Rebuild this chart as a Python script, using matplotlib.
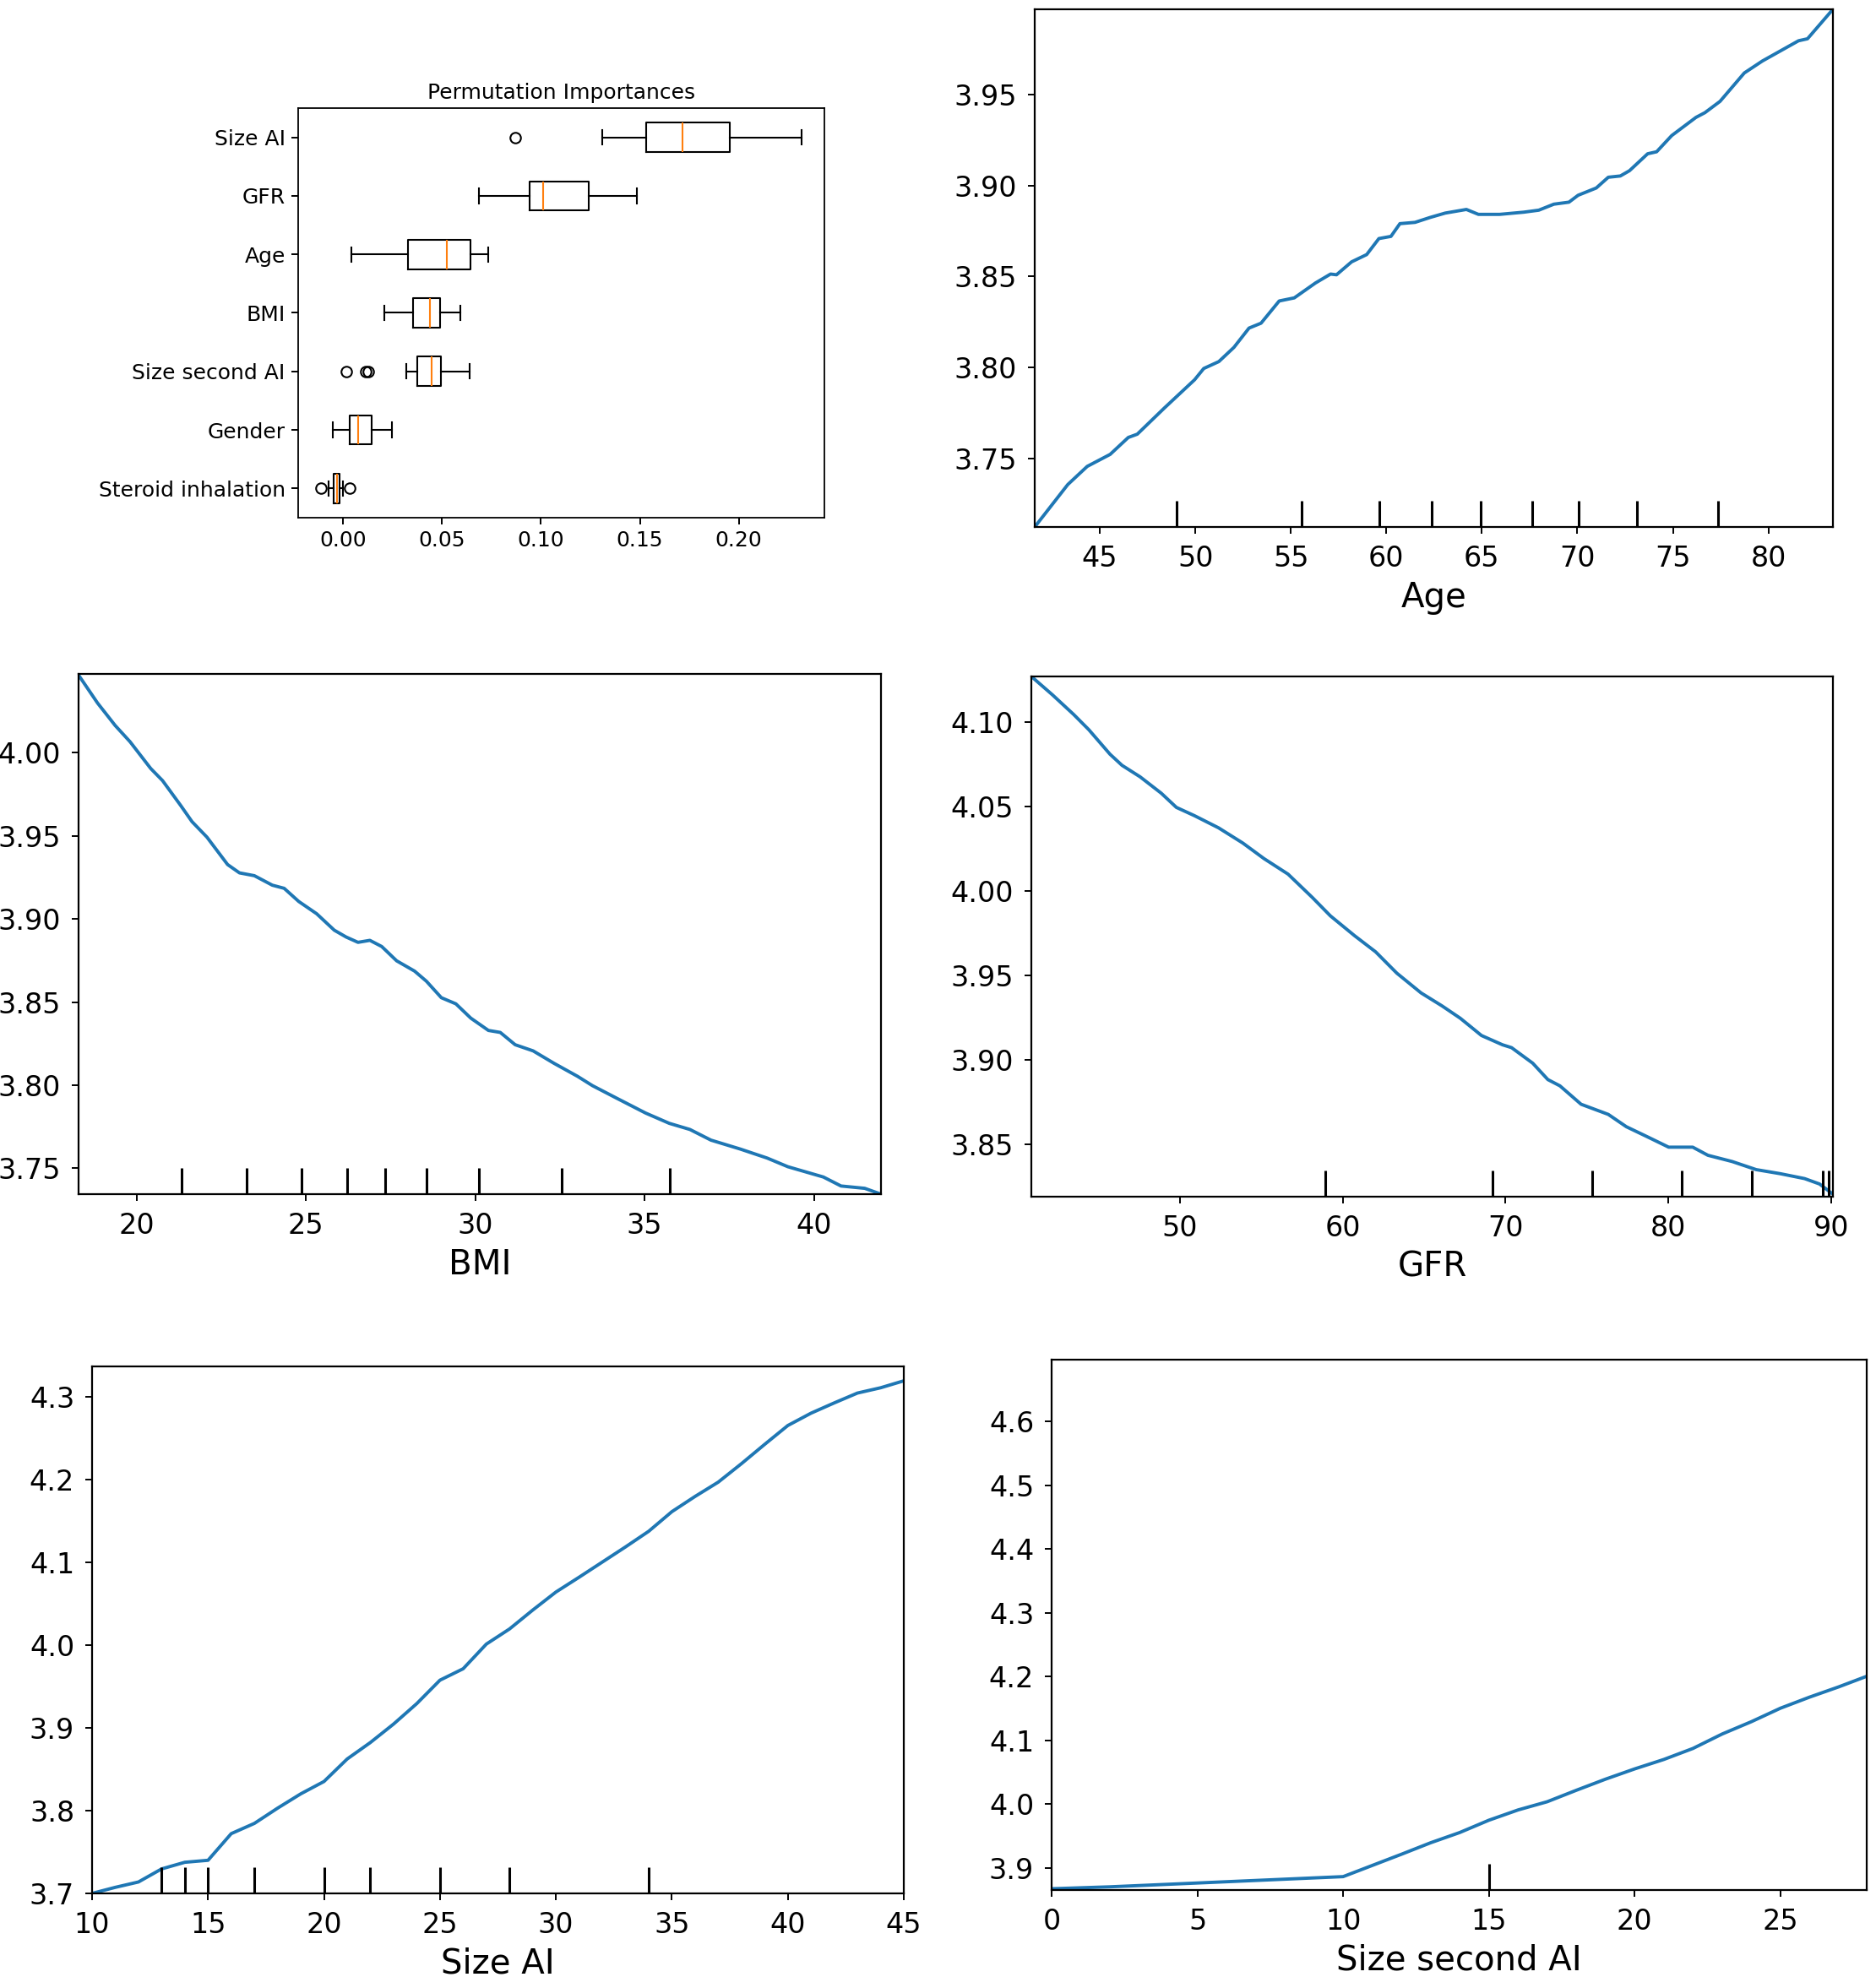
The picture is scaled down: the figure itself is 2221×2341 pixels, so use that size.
import matplotlib
matplotlib.use("Agg")
import matplotlib.pyplot as plt
import numpy as np

W, H = 2221, 2341
BLUE = "#1f77b4"

# ---- permutation importances (box stats) ----
features = ["Steroid inhalation", "Gender", "Size second AI", "BMI", "Age", "GFR", "Size AI"]
whislo = [-0.0074, -0.0052, 0.0320, 0.0209, 0.0043, 0.0688, 0.1310]
q1 = [-0.0045, 0.0036, 0.0377, 0.0353, 0.0329, 0.0943, 0.1530]
med = [-0.0031, 0.0078, 0.0448, 0.0440, 0.0527, 0.1011, 0.1717]
q3 = [-0.0017, 0.0145, 0.0495, 0.0489, 0.0644, 0.1242, 0.1954]
whishi = [0.0002, 0.0248, 0.0641, 0.0595, 0.0736, 0.1486, 0.2315]
fliers = [[-0.0112, 0.0036], [], [0.0016, 0.0115, 0.0128], [], [], [], [0.0872]]

# ---- partial dependence curves ----
age_x = [41.59, 43.32, 44.34, 45.54, 46.49, 46.96, 48.38, 49.96, 50.44, 51.23, 52.02,
         52.81, 53.44, 54.39, 55.18, 56.29, 57.08, 57.39, 58.18, 58.97, 59.61, 60.24,
         60.71, 61.50, 62.29, 63.08, 64.19, 64.82, 65.93, 67.19, 67.98, 68.77, 69.56,
         70.04, 70.99, 71.62, 72.25, 72.73, 73.68, 74.15, 74.94, 76.21, 76.68, 77.47,
         78.74, 79.69, 81.58, 82.05, 83.38]
age_y = [3.7123, 3.7356, 3.7456, 3.7522, 3.7615, 3.7633, 3.7777, 3.7932, 3.7994, 3.8032,
         3.8110, 3.8216, 3.8243, 3.8365, 3.8382, 3.8464, 3.8513, 3.8509, 3.8580, 3.8620,
         3.8708, 3.8720, 3.8790, 3.8797, 3.8824, 3.8848, 3.8868, 3.8841, 3.8841, 3.8853,
         3.8864, 3.8897, 3.8908, 3.8946, 3.8986, 3.9045, 3.9052, 3.9081, 3.9174, 3.9185,
         3.9274, 3.9374, 3.9400, 3.9462, 3.9618, 3.9684, 3.9795, 3.9806, 3.9968]
age_deciles = [49.02, 55.56, 59.64, 62.39, 64.95, 67.64, 70.07, 73.11, 77.37]

bmi_x = [18.29, 18.85, 19.37, 19.81, 20.42, 20.77, 21.30, 21.64, 22.08, 22.69, 23.04,
         23.48, 24.01, 24.36, 24.79, 25.32, 25.84, 26.19, 26.54, 26.89, 27.24, 27.68,
         28.21, 28.56, 29.00, 29.43, 29.87, 30.39, 30.74, 31.18, 31.71, 32.32, 33.02,
         33.46, 34.16, 35.03, 35.73, 36.34, 36.96, 37.83, 38.62, 39.23, 40.28, 40.80,
         41.50, 41.98]
bmi_y = [4.0468, 4.0300, 4.0165, 4.0067, 3.9906, 3.9833, 3.9685, 3.9586, 3.9493, 3.9328,
         3.9278, 3.9261, 3.9204, 3.9185, 3.9106, 3.9032, 3.8933, 3.8892, 3.8860, 3.8872,
         3.8835, 3.8749, 3.8687, 3.8626, 3.8527, 3.8490, 3.8404, 3.8330, 3.8318, 3.8244,
         3.8207, 3.8133, 3.8054, 3.7998, 3.7924, 3.7833, 3.7771, 3.7734, 3.7670, 3.7616,
         3.7562, 3.7510, 3.7448, 3.7394, 3.7380, 3.7345]
bmi_deciles = [21.33, 23.24, 24.88, 26.23, 27.33, 28.57, 30.10, 32.56, 35.75]

gfr_x = [40.87, 42.17, 43.47, 44.40, 45.70, 46.44, 47.55, 48.85, 49.78, 50.89, 52.37,
         53.86, 55.16, 56.64, 58.13, 59.24, 60.72, 62.02, 63.32, 64.81, 66.10, 67.22,
         68.52, 69.81, 70.37, 71.67, 72.60, 73.34, 74.64, 76.31, 77.42, 78.72, 80.02,
         81.50, 82.43, 83.92, 85.40, 86.88, 88.37, 89.29, 90.11]
gfr_y = [4.1269, 4.1160, 4.1044, 4.0954, 4.0809, 4.0743, 4.0675, 4.0578, 4.0494, 4.0445,
         4.0373, 4.0283, 4.0191, 4.0099, 3.9961, 3.9852, 3.9735, 3.9639, 3.9513, 3.9396,
         3.9319, 3.9246, 3.9144, 3.9089, 3.9072, 3.8980, 3.8883, 3.8846, 3.8737, 3.8677,
         3.8604, 3.8544, 3.8483, 3.8483, 3.8435, 3.8398, 3.8350, 3.8326, 3.8297, 3.8265,
         3.8205]
gfr_deciles = [58.91, 69.22, 75.31, 80.83, 85.14, 89.48, 89.85]

size_x = list(range(10, 46))
size_y = [3.700, 3.7073, 3.7138, 3.7296, 3.7376, 3.7400, 3.7722, 3.7846, 3.8030, 3.8203,
          3.8352, 3.8624, 3.8823, 3.9046, 3.9293, 3.9576, 3.9714, 4.0012, 4.0195, 4.0423,
          4.0641, 4.0820, 4.1003, 4.1186, 4.1375, 4.1612, 4.1796, 4.1969, 4.2192, 4.2425,
          4.2653, 4.2802, 4.2926, 4.3045, 4.3109, 4.3193]
size_deciles = [13, 14, 15, 17, 20, 22, 25, 28, 34]

size2_x = [0, 2, 4, 6, 8, 10, 12, 13, 14, 15, 16, 17, 18, 19, 20, 21, 22, 23, 24, 25, 26, 27, 28]
size2_y = [3.867, 3.870, 3.874, 3.878, 3.882, 3.886, 3.9211, 3.9391, 3.9552, 3.9745, 3.9906,
           4.0035, 4.0215, 4.0389, 4.0550, 4.0698, 4.0871, 4.1097, 4.1290, 4.1502, 4.1676,
           4.1837, 4.2010]
size2_deciles = [15]

fig = plt.figure(figsize=(W / 100, H / 100), dpi=100)


def box(x0, y0, x1, y1):
    # pixel box (top-left origin) -> figure fraction rect
    return [x0 / W, 1 - y1 / H, (x1 - x0) / W, (y1 - y0) / H]


def style(ax, size, lw=1.6, pad=5):
    for s in ax.spines.values():
        s.set_linewidth(lw)
    ax.tick_params(labelsize=size, length=6, width=1.4, pad=pad)


# ---- panel 1 : boxplot ----
ax1 = fig.add_axes(box(353, 128, 976, 613))
stats = []
for i, name in enumerate(features):
    stats.append(dict(label=name, whislo=whislo[i], q1=q1[i], med=med[i], q3=q3[i],
                      whishi=whishi[i], fliers=fliers[i]))
ax1.bxp(stats, vert=False, widths=0.5,
        boxprops=dict(linewidth=1.5),
        whiskerprops=dict(linewidth=1.5),
        capprops=dict(linewidth=1.5),
        medianprops=dict(color="#ff7f0e", linewidth=1.5),
        flierprops=dict(marker="o", markersize=9, markerfacecolor="none",
                        markeredgewidth=1.5))
ax1.set_xlim(-0.0226, 0.2432)
ax1.set_xticks([0.0, 0.05, 0.10, 0.15, 0.20])
ax1.set_xticklabels(["0.00", "0.05", "0.10", "0.15", "0.20"])
ax1.set_title("Permutation Importances", fontsize=18, pad=8)
style(ax1, 18, lw=1.3)


def pdp(rect, x, y, deciles, label, xlim, ylim, yticks, yfmt, xticks):
    ax = fig.add_axes(box(*rect))
    ax.plot(x, y, color=BLUE, linewidth=2.8)
    ax.vlines(deciles, 0, 0.05, transform=ax.get_xaxis_transform(),
              color="k", linewidth=2.2)
    ax.set_xlim(*xlim)
    ax.set_ylim(*ylim)
    ax.set_xticks(xticks)
    ax.set_yticks(yticks)
    ax.set_yticklabels([yfmt.format(v) for v in yticks])
    ax.set_xlabel(label, fontsize=29, labelpad=7)
    style(ax, 24, pad=9)
    return ax


pdp((1225, 11, 2170, 624), age_x, age_y, age_deciles, "Age",
    (41.59, 83.38), (3.7123, 3.9968), [3.75, 3.80, 3.85, 3.90, 3.95], "{:.2f}",
    list(range(45, 85, 5)))
pdp((93, 798, 1043, 1414), bmi_x, bmi_y, bmi_deciles, "BMI",
    (18.29, 41.98), (3.7345, 4.0475), [3.75, 3.80, 3.85, 3.90, 3.95, 4.00], "{:.2f}",
    [20, 25, 30, 35, 40])
pdp((1221, 801, 2170, 1417), gfr_x, gfr_y, gfr_deciles, "GFR",
    (40.87, 90.11), (3.819, 4.1269), [3.85, 3.90, 3.95, 4.00, 4.05, 4.10], "{:.2f}",
    [50, 60, 70, 80, 90])
pdp((109, 1618, 1070, 2242), size_x, size_y, size_deciles, "Size AI",
    (10, 45), (3.7, 4.3367), [3.7, 3.8, 3.9, 4.0, 4.1, 4.2, 4.3], "{:.1f}",
    list(range(10, 50, 5)))
pdp((1245, 1610, 2210, 2238), size2_x, size2_y, size2_deciles, "Size second AI",
    (0, 27.96), (3.865, 4.697), [3.9, 4.0, 4.1, 4.2, 4.3, 4.4, 4.5, 4.6], "{:.1f}",
    [0, 5, 10, 15, 20, 25])

fig.savefig("out.png", dpi=100)
